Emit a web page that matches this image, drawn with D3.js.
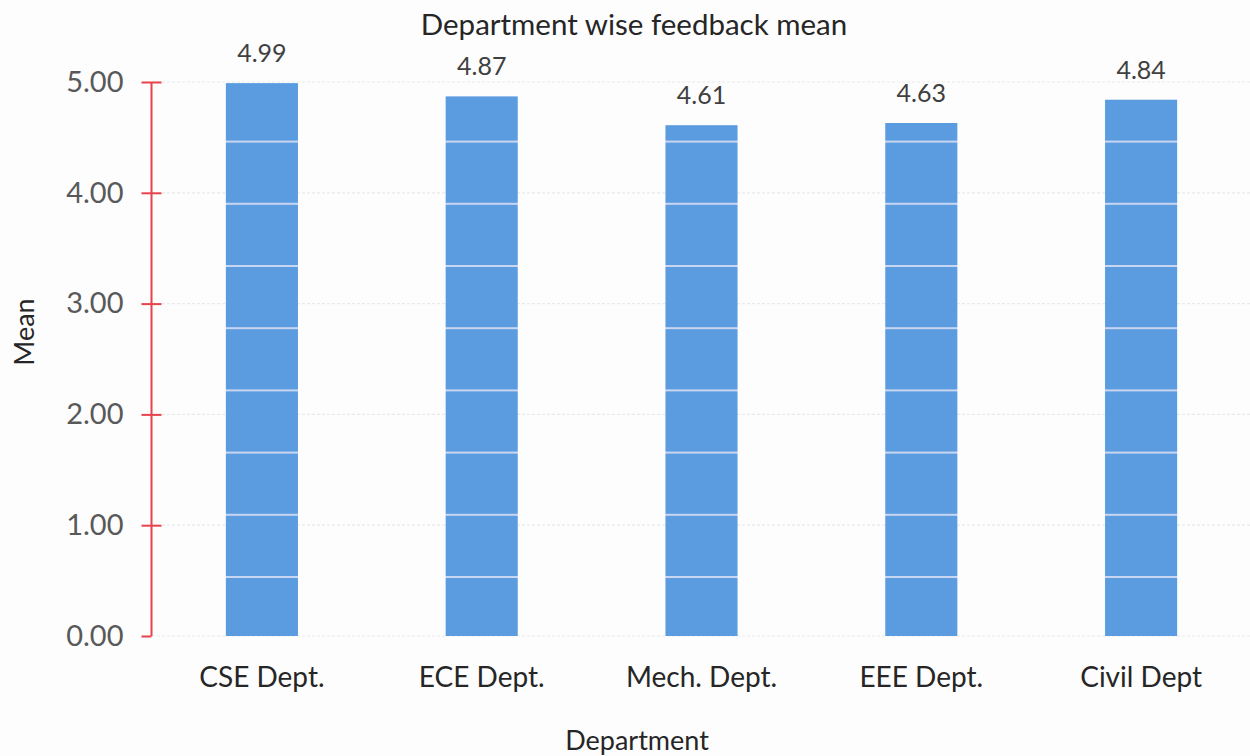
<!DOCTYPE html>
<html><head><meta charset="utf-8">
<script src="https://cdn.jsdelivr.net/npm/d3@7"></script>
<style>
html,body{margin:0;padding:0;background:#fdfdfd;}
svg text{font-family:Lato,"Open Sans",sans-serif;}
</style></head>
<body><svg id="c" width="1250" height="756"></svg>
<script>
const categories = ["CSE Dept.", "ECE Dept.", "Mech. Dept.", "EEE Dept.", "Civil Dept"];
const means = [4.99, 4.87, 4.61, 4.63, 4.84];
const yTicks = [0, 1, 2, 3, 4, 5];
const title = "Department wise feedback mean";
const xTitle = "Department";
const yTitle = "Mean";

const svg = d3.select("#c");
const x = d3.scaleBand().domain(categories).range([152, 1251]).paddingInner(0.672).paddingOuter(0.336);
const y = d3.scaleLinear().domain([0, 5]).range([636, 82]);

// faint gridlines
svg.append("g").selectAll("line").data(yTicks).join("line")
  .attr("x1", 152).attr("x2", 1250)
  .attr("y1", d => y(d)).attr("y2", d => y(d))
  .attr("stroke", "#e9e9ea").attr("stroke-width", 1.2).attr("stroke-dasharray", "3,2");

// scan-line pattern over bars
const defs = svg.append("defs");
const pat = defs.append("pattern").attr("id", "scan").attr("patternUnits", "userSpaceOnUse")
  .attr("width", 10).attr("height", 62.2).attr("y", 576 - 62.2 * 9);
pat.append("rect").attr("width", 10).attr("height", 62.2).attr("fill", "#5b9be0");
pat.append("rect").attr("y", 0).attr("width", 10).attr("height", 2).attr("fill", "#c9d6f2");

svg.append("g").selectAll("rect").data(means).join("rect")
  .attr("x", (d, i) => x(categories[i]))
  .attr("width", x.bandwidth())
  .attr("y", d => y(d))
  .attr("height", d => y(0) - y(d))
  .attr("fill", "url(#scan)");

// value labels
svg.append("g").selectAll("text").data(means).join("text")
  .attr("x", (d, i) => x(categories[i]) + x.bandwidth() / 2)
  .attr("y", d => y(d) - 21)
  .attr("text-anchor", "middle")
  .attr("font-size", 25).attr("fill", "#404040")
  .text(d => d.toFixed(2));

// y axis
const yAxis = d3.axisLeft(y).tickValues(yTicks).tickFormat(d3.format(".2f")).tickSize(10).tickPadding(18);
const gy = svg.append("g").attr("transform", "translate(151.5,0)").call(yAxis);
gy.select(".domain").attr("stroke", "#e8434b").attr("stroke-width", 2).attr("d", `M0,${y(5)}V${y(0)}`);
gy.selectAll(".tick line").attr("stroke", "#e8434b").attr("stroke-width", 2)
  .attr("x2", -10).attr("x1", d => d === 0 ? 0 : 10);
gy.selectAll(".tick text").attr("font-size", 29).attr("fill", "#595959").attr("font-family", "Lato,sans-serif");

// x axis labels
const xAxis = d3.axisBottom(x).tickSize(0).tickPadding(31);
const gx = svg.append("g").attr("transform", `translate(0,${y(0)})`).call(xAxis);
gx.select(".domain").remove();
gx.selectAll(".tick text").attr("font-size", 28).attr("fill", "#262626").attr("font-family", "Lato,sans-serif");

// titles
svg.append("text").attr("x", 634).attr("y", 35).attr("text-anchor", "middle")
  .attr("font-size", 29.5).attr("fill", "#262626").text(title);
svg.append("text").attr("x", 637).attr("y", 750).attr("text-anchor", "middle")
  .attr("font-size", 27).attr("fill", "#262626").text(xTitle);
svg.append("text").attr("transform", "translate(34,332) rotate(-90)").attr("text-anchor", "middle")
  .attr("font-size", 27).attr("fill", "#262626").text(yTitle);
</script></body></html>
